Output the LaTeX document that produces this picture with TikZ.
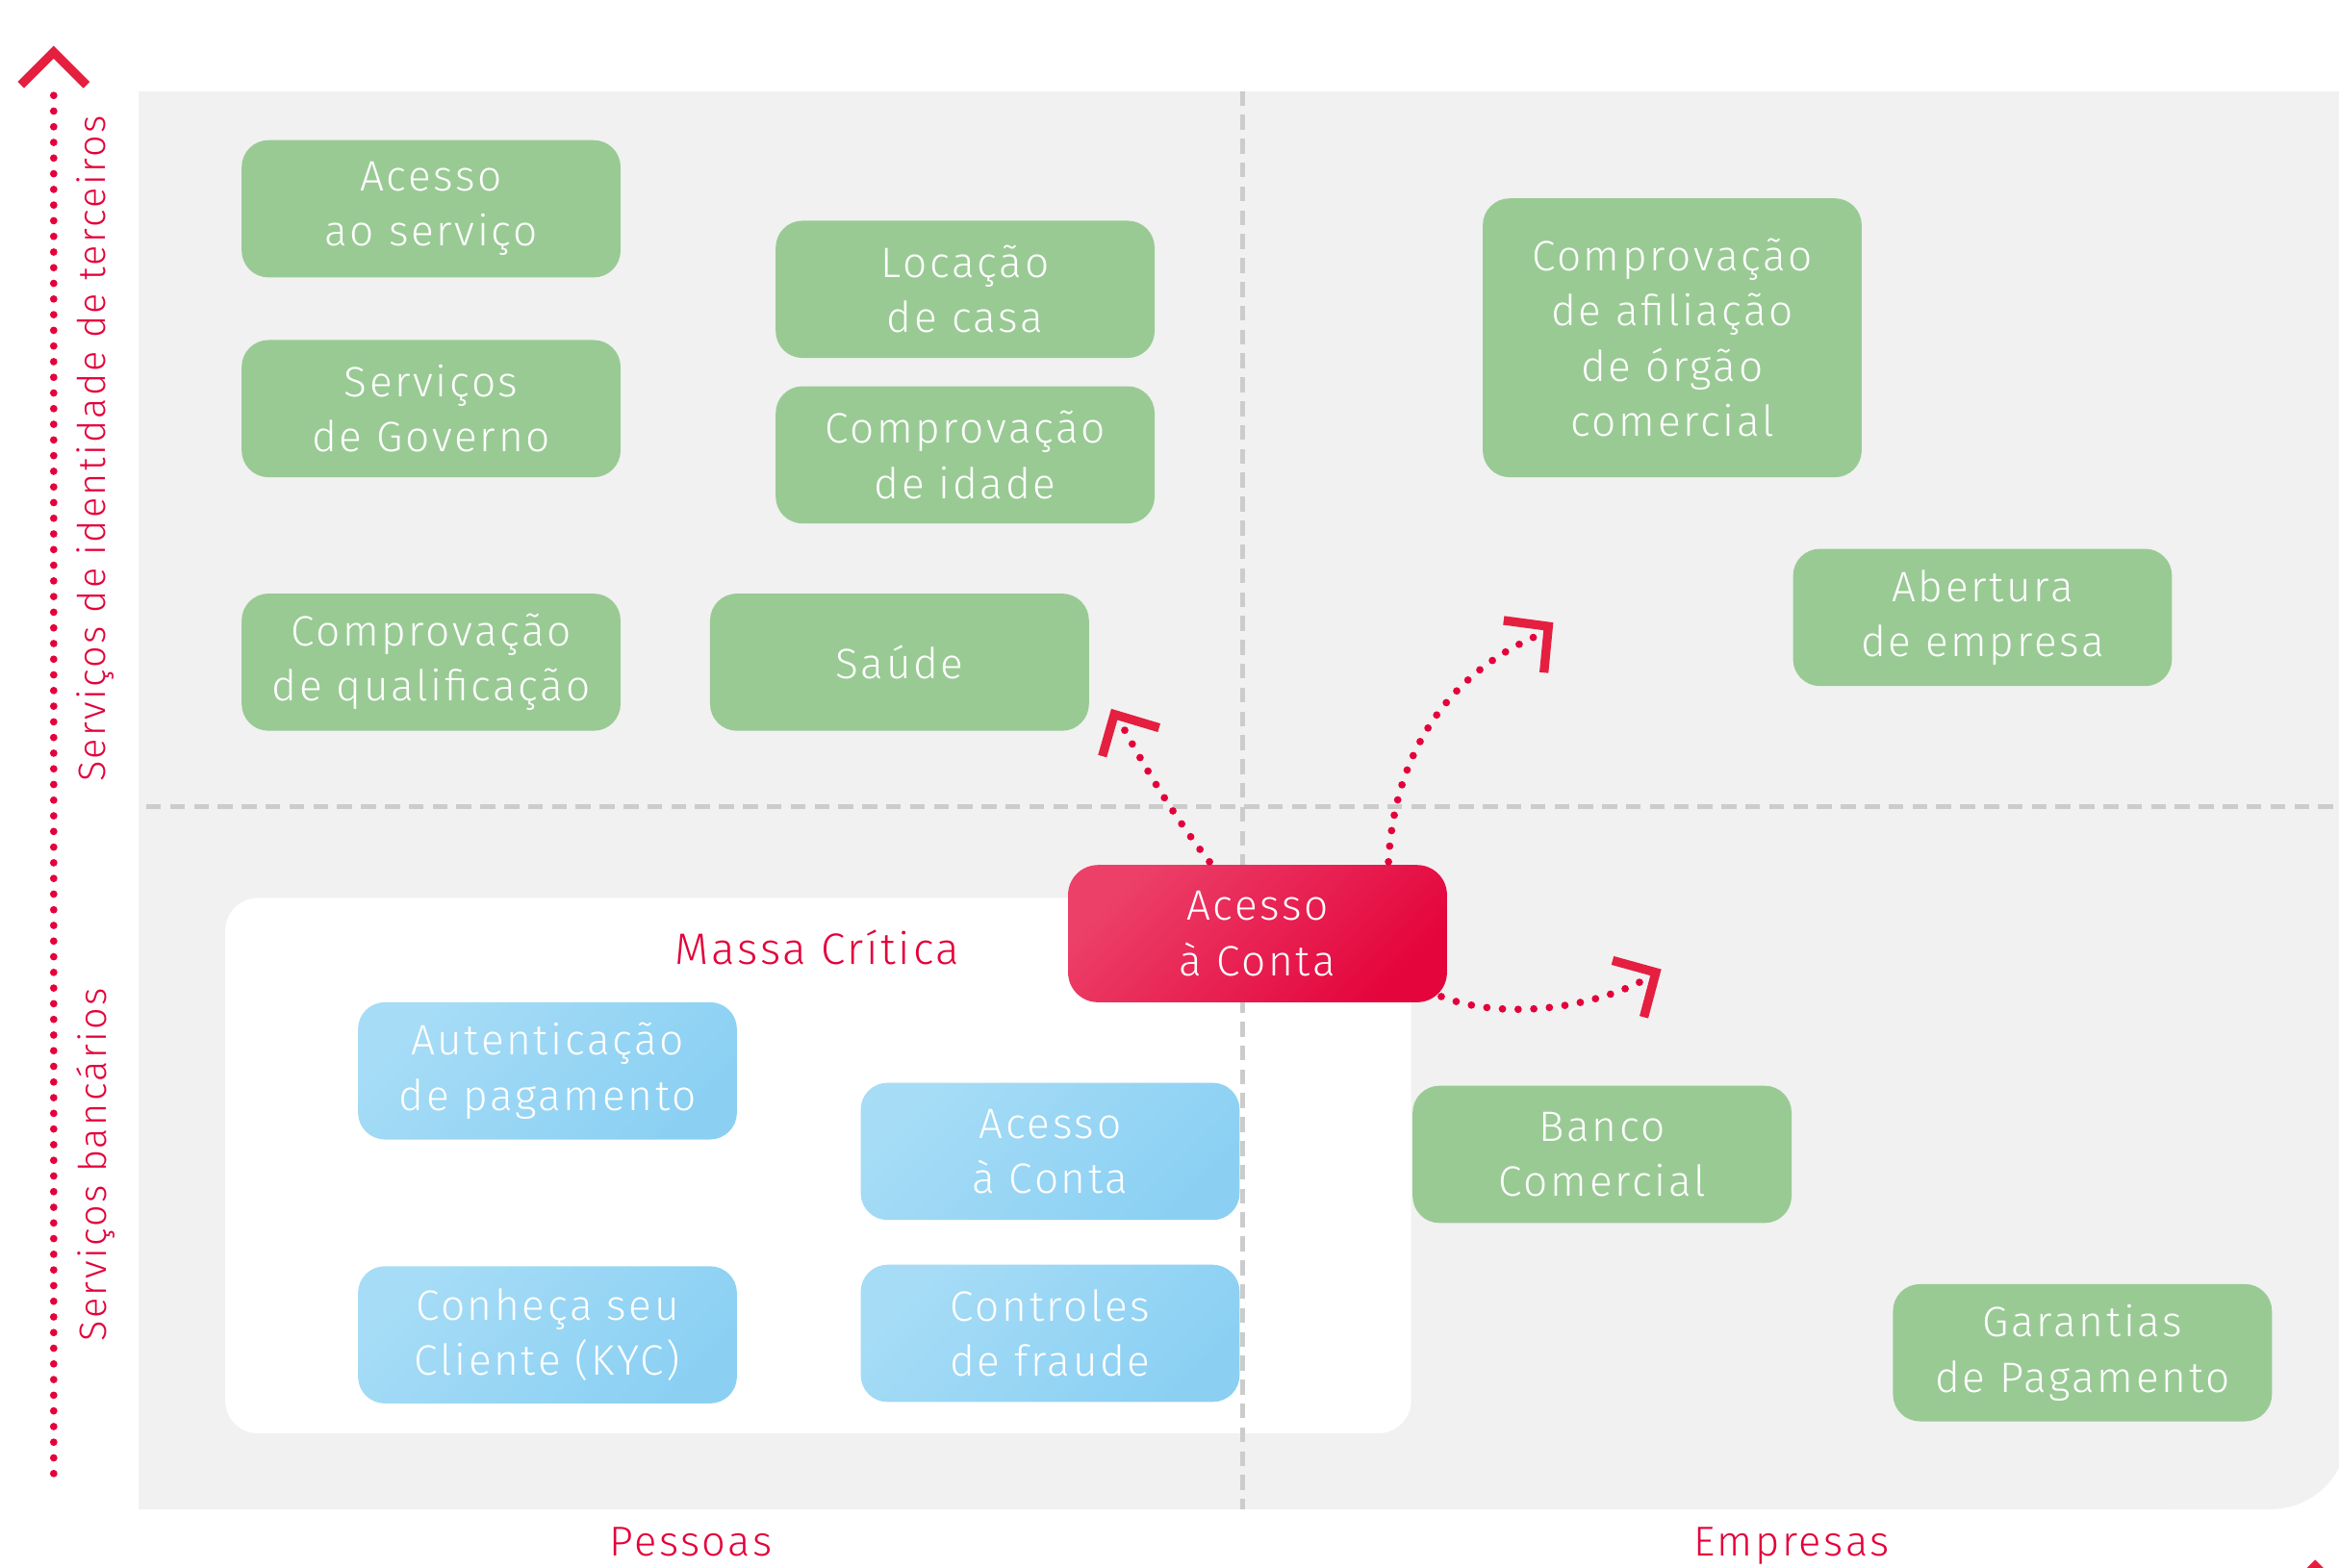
\documentclass[tikz,border=0pt]{standalone}
\usepackage{fontspec}
\setmainfont{Fira Sans Light}[LetterSpace=6]
\usetikzlibrary{calc}
\definecolor{panel}{HTML}{F1F1F1}
\definecolor{dashgray}{HTML}{CCCCCC}
\definecolor{grn}{HTML}{99CA94}
\definecolor{redtxt}{HTML}{E4003A}
\definecolor{redarr}{HTML}{E51F3F}
\definecolor{blueA}{HTML}{A6DCF6}
\definecolor{blueB}{HTML}{8BD0F3}
\definecolor{redA}{HTML}{EC4069}
\definecolor{redB}{HTML}{E4053D}
\begin{document}
\begin{tikzpicture}[x=1pt,y=-1pt,
  box/.style={rounded corners=18pt, minimum width=254pt, minimum height=92pt, align=center, text=white, font=\fontsize{28.5}{37}\selectfont, inner sep=0pt},
  gbox/.style={box, fill=grn},
  bbox/.style={box, top color=blueA, bottom color=blueB, shading angle=45},
  rbox/.style={box, top color=redA, bottom color=redB, shading angle=45},
  gline/.style={draw=dashgray, line width=3pt, dash pattern=on 10pt off 6pt},
  dots/.style={draw=redtxt, line width=5pt, line cap=round, dash pattern=on 0pt off 10.5pt},
  chev/.style={draw=redarr, line width=6pt, miter limit=10},
  lbl/.style={text=redtxt, font=\fontsize{28}{34}\selectfont, inner sep=0pt},
  axlbl/.style={lbl, font=\fontsize{25.5}{30}\selectfont}
]
\useasboundingbox (0,0) rectangle (1568,1051);
\clip (0,0) rectangle (1568,1051);
% panel
\fill[panel] (93,61) rectangle (1574,960);
\fill[panel] (93,900) rectangle (1522,1012);
\fill[panel, rounded corners=52pt] (1400,900) rectangle (1574,1012);
% critical mass container
\node[fill=white, rounded corners=22pt, minimum width=795pt, minimum height=359pt, inner sep=0pt] (crit) at (548.5,781.5) {};
\node[lbl, font=\fontsize{29.5}{34}\selectfont] (critlbl) at (548,635) {Massa Crítica};
% dashed axes
\coordinate (vt) at (833,61);
\coordinate (vb) at (833,1012);
\coordinate (hl) at (98,541);
\coordinate (hr) at (1568,541);
\draw[gline] (vt) -- (vb);
\draw[gline] (hl) -- (hr);
% y axis
\coordinate (ytop) at (36,64);
\coordinate (ybot) at (36,998);
\coordinate (ytip) at (36,35);
\draw[dots] (ytop) -- (ybot);
\draw[chev] ($(ytip)+(-22,22)$) -- (ytip) -- ($(ytip)+(22,22)$);
\node[axlbl, rotate=90] (ylab1) at (64,301) {Serviços de identidade de terceiros};
\node[axlbl, rotate=90] (ylab2) at (64,781) {Serviços bancários};
% x labels
\node[lbl, anchor=base] (xl1) at (463,1043) {Pessoas};
\node[lbl, anchor=base] (xl2) at (1201,1043) {Empresas};
% green boxes
\node[gbox] (g1) at (289,140) {Acesso\\ao serviço};
\node[gbox] (g2) at (289,274) {Serviços\\de Governo};
\node[gbox] (g3) at (289,444) {Comprovação\\de qualificação};
\node[gbox] (g4) at (647,194) {Locação\\de casa};
\node[gbox] (g5) at (647,305) {Comprovação\\de idade};
\node[gbox] (g6) at (603,444) {Saúde};
\node[gbox, minimum height=187pt] (g7) at (1121,226.5) {Comprovação\\de afiliação\\de órgão\\comercial};
\node[gbox] (g8) at (1329,414) {Abertura\\de empresa};
\node[gbox] (g9) at (1074,774) {Banco\\Comercial};
\node[gbox] (g10) at (1396,907) {Garantias\\de Pagamento};
% blue boxes
\node[bbox] (b1) at (367,718) {Autenticação\\de pagamento};
\node[bbox] (b2) at (704,772) {Acesso\\à Conta};
\node[bbox] (b3) at (367,895) {Conheça seu\\Cliente (KYC)};
\node[bbox] (b4) at (704,894) {Controles\\de fraude};
% red box
\node[rbox, rounded corners=20pt] (red) at (843,626) {Acesso\\à Conta};
% connectors
\coordinate (t1) at (747,479);
\coordinate (t2) at (1038,420);
\coordinate (t3) at (1110,652);
\draw[dots] ($(red.north west)+(95,-2)$) .. controls (785,545) and (765,510) .. (752,486);
\draw[dots] ($(red.north west)+(215,-2)$) .. controls (935,500) and (975,450) .. (1031,426);
\draw[dots] ($(red.south east)+(-4,-4)$) .. controls (1010,685) and (1070,675) .. (1104,656);
\draw[chev] ($(t1)+(30,9)$) -- (t1) -- ($(t1)+(-8,28)$);
\draw[chev] ($(t2)+(-30,-4)$) -- (t2) -- ($(t2)+(-3,31)$);
\draw[chev] ($(t3)+(-29,-8)$) -- (t3) -- ($(t3)+(-8,30)$);
% cut-off tip at lower right
\coordinate (t4) at (1552,1050);
\draw[chev] ($(t4)+(-10,10)$) -- (t4) -- ($(t4)+(10,10)$);
\end{tikzpicture}
\end{document}
